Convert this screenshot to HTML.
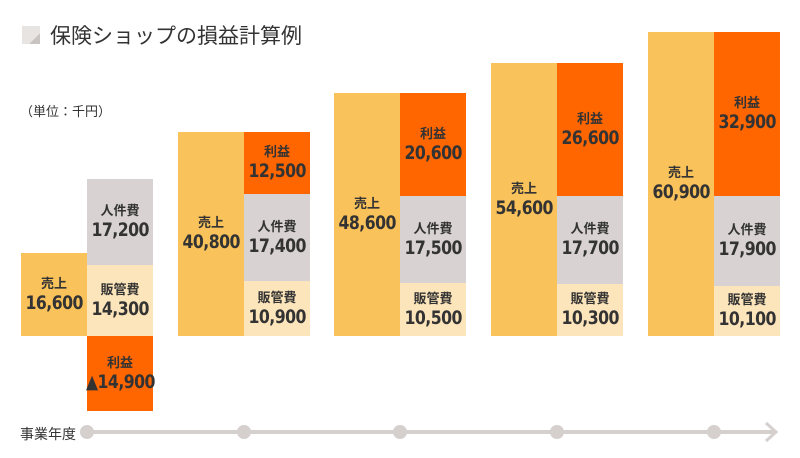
<!DOCTYPE html>
<html><head><meta charset="utf-8"><style>
body{margin:0;width:800px;height:458px;background:#fff;position:relative;overflow:hidden;font-family:"Liberation Sans","Noto Sans CJK JP",sans-serif;color:#333}
.b{position:absolute;width:66px;display:flex;flex-direction:column;align-items:center;justify-content:center;box-sizing:border-box}
.l{font-size:13px;font-weight:bold;line-height:16px}
.n{font-size:19px;font-weight:bold;line-height:22px;letter-spacing:-0.6px;font-family:"DejaVu Sans Condensed","DejaVu Sans","Liberation Sans",sans-serif;transform:scaleX(.92)}
.s{background:#f9c25a}.p{background:#ff6600}.h{background:#d8d3d2}.a{background:#fde5bb}
.dot{position:absolute;top:425px;width:14px;height:14px;border-radius:50%;background:#d5d0ce}
</style></head><body>
<div style="position:absolute;left:22px;top:26px;width:18px;height:18px;background:linear-gradient(135deg,#e8e4e2 70%,#c9c3c1 70%)"></div>
<div style="position:absolute;left:50px;top:20px;font-size:21px;color:#333">保険ショップの損益計算例</div>
<div style="position:absolute;left:20px;top:101px;font-size:13px">（単位：千円）</div>

<div class="b s" style="left:21px;top:253px;height:83px"><div class="l">売上</div><div class="n">16,600</div></div>
<div class="b h" style="left:87px;top:179px;height:86px"><div class="l">人件費</div><div class="n">17,200</div></div>
<div class="b a" style="left:87px;top:265px;height:71px"><div class="l">販管費</div><div class="n">14,300</div></div>
<div class="b p" style="left:87px;top:336px;height:75px"><div class="l">利益</div><div class="n">▲14,900</div></div>

<div class="b s" style="left:178px;top:132px;height:204px"><div class="l">売上</div><div class="n">40,800</div></div>
<div class="b p" style="left:244px;top:132px;height:62px"><div class="l">利益</div><div class="n">12,500</div></div>
<div class="b h" style="left:244px;top:194px;height:87px"><div class="l">人件費</div><div class="n">17,400</div></div>
<div class="b a" style="left:244px;top:281px;height:55px"><div class="l">販管費</div><div class="n">10,900</div></div>

<div class="b s" style="left:334px;top:93px;height:243px"><div class="l">売上</div><div class="n">48,600</div></div>
<div class="b p" style="left:400px;top:93px;height:103px"><div class="l">利益</div><div class="n">20,600</div></div>
<div class="b h" style="left:400px;top:196px;height:87px"><div class="l">人件費</div><div class="n">17,500</div></div>
<div class="b a" style="left:400px;top:283px;height:53px"><div class="l">販管費</div><div class="n">10,500</div></div>

<div class="b s" style="left:491px;top:63px;height:273px"><div class="l">売上</div><div class="n">54,600</div></div>
<div class="b p" style="left:557px;top:63px;height:133px"><div class="l">利益</div><div class="n">26,600</div></div>
<div class="b h" style="left:557px;top:196px;height:88px"><div class="l">人件費</div><div class="n">17,700</div></div>
<div class="b a" style="left:557px;top:284px;height:52px"><div class="l">販管費</div><div class="n">10,300</div></div>

<div class="b s" style="left:648px;top:32px;height:304px"><div class="l">売上</div><div class="n">60,900</div></div>
<div class="b p" style="left:714px;top:32px;height:164px"><div class="l">利益</div><div class="n">32,900</div></div>
<div class="b h" style="left:714px;top:196px;height:90px"><div class="l">人件費</div><div class="n">17,900</div></div>
<div class="b a" style="left:714px;top:286px;height:50px"><div class="l">販管費</div><div class="n">10,100</div></div>

<div style="position:absolute;left:20px;top:424px;font-size:14px">事業年度</div>
<div style="position:absolute;left:87px;top:430px;width:688px;height:4px;background:#d5d0ce"></div>
<svg style="position:absolute;left:760px;top:420px" width="22" height="24"><polyline points="6,3 16,12 6,21" fill="none" stroke="#d5d0ce" stroke-width="3"/></svg>
<div class="dot" style="left:80px"></div><div class="dot" style="left:237px"></div><div class="dot" style="left:393px"></div><div class="dot" style="left:550px"></div><div class="dot" style="left:707px"></div>
</body></html>
